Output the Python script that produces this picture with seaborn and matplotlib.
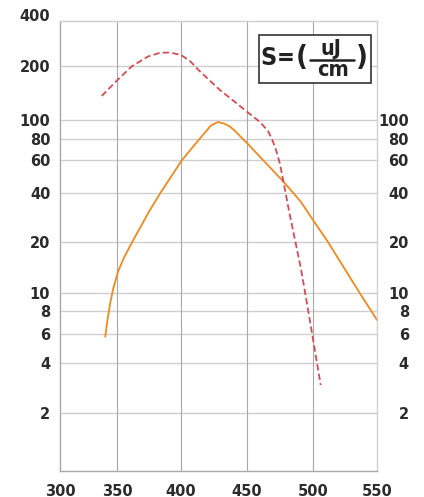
import matplotlib
matplotlib.use("Agg")
import numpy as np
import pandas as pd
import matplotlib.pyplot as plt
import seaborn as sns
from matplotlib.ticker import FixedLocator, NullLocator, FixedFormatter
from matplotlib.patches import Rectangle
from matplotlib.lines import Line2D


# ─────────────────────────────────────────────
# Data
# ─────────────────────────────────────────────

solid_x = [339.7, 341.5, 343.9, 346.8, 351.0, 355.5, 362.3, 375.8, 384.4, 400.5,
           408.6, 422.7, 427.9, 432.6, 437.1, 440.9, 444.7, 450.0, 462.1, 476.5,
           485.1, 490.9, 500.0, 511.7, 536.7, 550.0]
solid_y = [5.78, 7.06, 8.73, 10.7, 13.5, 16.2, 20.3, 31.5, 40.5, 59.6,
           71.2, 93.8, 97.6, 96.0, 92.6, 87.9, 82.8, 75.7, 60.0, 46.9,
           40.0, 35.2, 27.3, 20.0, 9.95, 7.15]

dashed_x = [336.6, 350.0, 361.5, 374.2, 383.6, 391.4, 400.0, 406.8, 414.4, 429.5,
            440.9, 450.0, 459.8, 465.9, 468.9, 472.0, 475.0, 478.8, 482.6, 490.9,
            498.5, 506.0]
dashed_y = [136.1, 166.1, 199.0, 231.4, 245.1, 246.2, 237.0, 216.0, 186.4, 146.9,
            126.0, 111.2, 97.7, 87.9, 80.0, 68.8, 57.1, 41.5, 28.9, 13.9,
            6.54, 2.95]

x_ticks = [300, 350, 400, 450, 500, 550]
left_ticks = [2, 4, 6, 8, 10, 20, 40, 60, 80, 100, 200, 400]
right_ticks = [2, 4, 6, 8, 10, 20, 40, 60, 80, 100]

# The printed grid is not evenly spaced: pixel rows/columns of each grid line
x_grid_px = [60, 117, 181, 247, 313, 377]
y_grid_vals = [0.895, 2, 4, 6, 8, 10, 20, 40, 60, 80, 100, 200, 400]
y_grid_px = [471, 413, 363, 334, 311, 293, 242, 193, 160, 139, 120, 66, 21]

ORANGE = "#f08a1e"
RED = "#d64a55"
TEXT = "#2b2b2b"


def interp_ext(v, xp, fp):
    """np.interp with linear extrapolation past both ends."""
    v = np.asarray(v, dtype=float)
    out = np.interp(v, xp, fp)
    lo = (fp[1] - fp[0]) / (xp[1] - xp[0])
    hi = (fp[-1] - fp[-2]) / (xp[-1] - xp[-2])
    out = np.where(v < xp[0], fp[0] + (v - xp[0]) * lo, out)
    out = np.where(v > xp[-1], fp[-1] + (v - xp[-1]) * hi, out)
    return out


xv = np.array(x_grid_px, dtype=float)
xd = np.array(x_ticks, dtype=float)
ylog = np.log10(np.array(y_grid_vals))
ypx = -np.array(y_grid_px, dtype=float)


def x_fwd(v):
    return interp_ext(v, xd, xv)


def x_inv(t):
    return interp_ext(t, xv, xd)


def y_fwd(v):
    v = np.maximum(np.asarray(v, dtype=float), 1e-6)
    return interp_ext(np.log10(v), ylog, ypx)


def y_inv(t):
    return 10 ** interp_ext(t, ypx, ylog)


# ─────────────────────────────────────────────
# Figure
# ─────────────────────────────────────────────

sns.set_style("white")
plt.rcParams["font.family"] = ["DejaVu Sans"]

W, H = 424, 497
fig = plt.figure(figsize=(W / 100, H / 100), dpi=100)
ax = fig.add_axes([60 / W, (H - 471) / H, 317 / W, 450 / H])

sns.lineplot(x=solid_x, y=solid_y, ax=ax, color=ORANGE, linewidth=1.3)
sns.lineplot(x=dashed_x, y=dashed_y, ax=ax, color=RED, linewidth=1.3,
             linestyle=(0, (3.5, 1.8)))

ax.set_xscale("function", functions=(x_fwd, x_inv))
ax.set_yscale("function", functions=(y_fwd, y_inv))
ax.set_xlim(300, 550)
ax.set_ylim(0.895, 400)

ax.xaxis.set_major_locator(FixedLocator(x_ticks))
ax.xaxis.set_minor_locator(NullLocator())
ax.xaxis.set_major_formatter(FixedFormatter([str(t) for t in x_ticks]))
ax.yaxis.set_major_locator(FixedLocator(left_ticks))
ax.yaxis.set_minor_locator(NullLocator())
ax.yaxis.set_major_formatter(FixedFormatter([str(t) for t in left_ticks]))

ax.grid(False)
for t in left_ticks[:-1]:
    ax.axhline(t, color="#cfcfcf", linewidth=1.0, zorder=0)
for t in x_ticks[1:-1]:
    ax.axvline(t, color="#a8a8a8", linewidth=0.8, zorder=0)

for side, col in [("left", "#a8a8a8"), ("bottom", "#a8a8a8"),
                  ("right", "#cfcfcf"), ("top", "#cfcfcf")]:
    ax.spines[side].set_visible(True)
    ax.spines[side].set_color(col)
    ax.spines[side].set_linewidth(1.0)

ax.tick_params(axis="both", length=0, labelsize=10.5, labelcolor=TEXT)
ax.tick_params(axis="y", pad=7)
ax.tick_params(axis="x", pad=9)
for lbl in ax.get_xticklabels() + ax.get_yticklabels():
    lbl.set_fontweight("bold")
# the "400" label sits a little above the frame in the original
ax.get_yticklabels()[-1].set_verticalalignment("baseline")

# Right axis labels (subset)
ax2 = ax.twinx()
ax2.set_yscale("function", functions=(y_fwd, y_inv))
ax2.set_ylim(ax.get_ylim())
ax2.yaxis.set_major_locator(FixedLocator(right_ticks))
ax2.yaxis.set_minor_locator(NullLocator())
ax2.yaxis.set_major_formatter(FixedFormatter([str(t) for t in right_ticks]))
ax2.tick_params(axis="y", length=0, labelsize=10.5, labelcolor=TEXT, pad=23)
for lbl in ax2.get_yticklabels():
    lbl.set_fontweight("bold")
    lbl.set_horizontalalignment("right")
for s in ax2.spines.values():
    s.set_visible(False)

# ─────────────────────────────────────────────
# Units box
# ─────────────────────────────────────────────

def fx(px):
    return px / W


def fy(py):
    return (H - py) / H


fig.patches.append(Rectangle((fx(259), fy(83)), fx(371) - fx(259), fy(35) - fy(83),
                             transform=fig.transFigure, facecolor="white",
                             edgecolor="#333333", linewidth=1.2, zorder=5))
box_font = dict(color="#222222", fontweight="bold", fontstretch="condensed",
                ha="center", va="center", transform=fig.transFigure, zorder=6)
fig.text(fx(268.5), fy(58), "S", fontsize=18, **box_font)
fig.text(fx(286), fy(58), "=", fontsize=17, **box_font)
fig.text(fx(302), fy(58), "(", fontsize=21, **box_font)
fig.text(fx(330.5), fy(49), "uJ", fontsize=15.5, **box_font)
fig.text(fx(333), fy(70), "cm", fontsize=15.5, **box_font)
fig.text(fx(362), fy(58), ")", fontsize=21, **box_font)
fig.lines.append(Line2D([fx(310), fx(354)], [fy(59.5), fy(59.5)],
                        transform=fig.transFigure, color="#222222",
                        linewidth=1.8, zorder=6))

fig.savefig("out.png", dpi=100)
plt.close(fig)
